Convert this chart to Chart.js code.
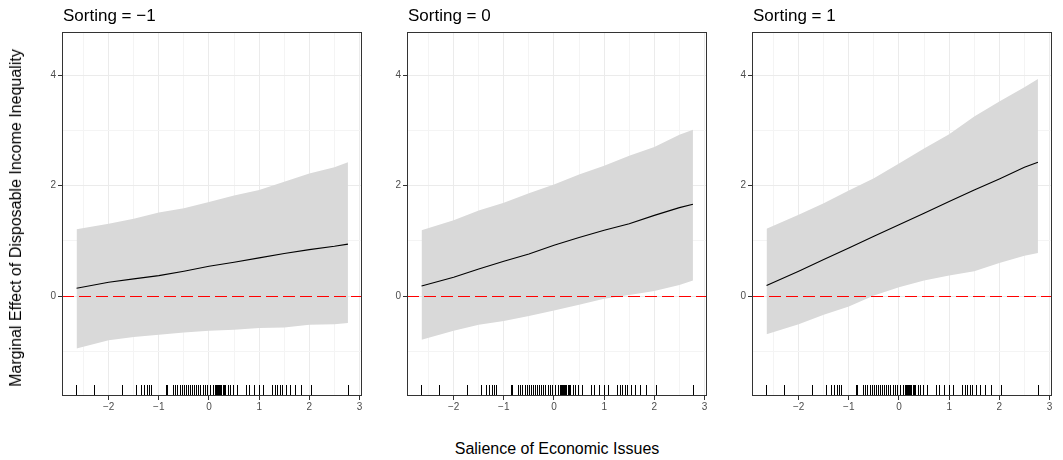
<!DOCTYPE html>
<html>
<head>
<meta charset="utf-8">
<script src="https://cdn.jsdelivr.net/npm/chart.js@4"></script>
<style>
  body { margin: 0; background: #fff; font-family: "Liberation Sans", Arial, sans-serif; }
  #wrap { position: relative; width: 1063px; height: 460px; overflow: hidden; }
  canvas { position: absolute; top: 0; }
  .ylab { position: absolute; left: 16px; top: 218px; transform: translate(-50%, -50%) rotate(-90deg);
          white-space: nowrap; font-size: 16px; color: #000; }
  .xlab { position: absolute; left: 557px; top: 449px; transform: translate(-50%, -50%);
          white-space: nowrap; font-size: 16px; color: #000; }
</style>
</head>
<body>
<div id="wrap">
  <canvas id="p0" width="344" height="420"></canvas>
  <canvas id="p1" width="344" height="420"></canvas>
  <canvas id="p2" width="344" height="420"></canvas>
  <div class="ylab">Marginal Effect of Disposable Income Inequality</div>
  <div class="xlab">Salience of Economic Issues</div>
</div>
<script>
// facets
const panels = ["Sorting = \u22121", "Sorting = 0", "Sorting = 1"]

const salience = [-2.64, -2, -1.5, -1, -0.5, 0, 0.5, 1, 1.5, 2, 2.5, 2.77]

// marginal effect and 95% band, one array per facet
const effect_m1 = [0.14, 0.25, 0.31, 0.37, 0.45, 0.54, 0.61, 0.69, 0.77, 0.84, 0.90, 0.94]
const upper_m1  = [1.21, 1.31, 1.40, 1.51, 1.59, 1.70, 1.82, 1.92, 2.07, 2.22, 2.33, 2.42]
const lower_m1  = [-0.95, -0.80, -0.74, -0.70, -0.66, -0.63, -0.61, -0.58, -0.57, -0.52, -0.51, -0.49]

const effect_0 = [0.18, 0.34, 0.49, 0.63, 0.76, 0.92, 1.06, 1.19, 1.31, 1.46, 1.60, 1.66]
const upper_0  = [1.19, 1.37, 1.55, 1.69, 1.86, 2.02, 2.20, 2.36, 2.54, 2.70, 2.92, 3.01]
const lower_0  = [-0.79, -0.63, -0.52, -0.45, -0.36, -0.26, -0.16, -0.05, 0.02, 0.09, 0.20, 0.28]

const effect_p1 = [0.19, 0.45, 0.66, 0.87, 1.08, 1.29, 1.50, 1.71, 1.92, 2.12, 2.33, 2.42]
const upper_p1  = [1.22, 1.47, 1.68, 1.91, 2.13, 2.40, 2.67, 2.93, 3.25, 3.52, 3.78, 3.93]
const lower_p1  = [-0.69, -0.51, -0.34, -0.19, 0.01, 0.16, 0.28, 0.37, 0.45, 0.60, 0.73, 0.78]

// observed salience values (rug)
const rug = [-2.66, -2.30, -1.74, -1.45, -1.35, -1.29, -1.24, -1.19, -1.16, -0.86, -0.83, -0.72,
  -0.67, -0.63, -0.58, -0.54, -0.50, -0.46, -0.41, -0.37, -0.33, -0.29, -0.25, -0.21, -0.17,
  -0.11, -0.07, -0.03, 0.03, 0.08, 0.12, 0.14, 0.16, 0.18, 0.20, 0.22, 0.24, 0.27, 0.29, 0.32,
  0.37, 0.42, 0.48, 0.56, 0.73, 0.79, 0.89, 1.00, 1.07, 1.26, 1.31, 1.36, 1.41, 1.46, 1.53,
  1.61, 1.71, 1.84, 2.03, 2.78]

const xTicks = [-2, -1, 0, 1, 2, 3]
const yTicks = [0, 2, 4]
const refLine = 0

const series = [
  [effect_m1, upper_m1, lower_m1],
  [effect_0, upper_0, lower_0],
  [effect_p1, upper_p1, lower_p1]
]

const panelLeft = [62, 407, 752]
const FONT = '"Liberation Sans", Arial, sans-serif'

function pts(ys) {
  return salience.map((x, i) => ({x: x, y: ys[i]}))
}
function minus(v) {
  return v < 0 ? '\u2212' + Math.abs(v) : String(v)
}

const facetPlugin = {
  id: 'facet',
  afterDatasetsDraw(chart, args, opts) {
    const c = chart.ctx, a = chart.chartArea
    const xs = chart.scales.x, ys = chart.scales.y
    c.save()
    // zero line
    const y0 = Math.round(ys.getPixelForValue(refLine)) + 0.5
    c.strokeStyle = '#FF0000'
    c.lineWidth = 1.1
    c.setLineDash([12, 5])
    c.beginPath()
    c.moveTo(a.left, y0)
    c.lineTo(a.right, y0)
    c.stroke()
    c.setLineDash([])
    // rug
    c.strokeStyle = '#000'
    c.lineWidth = 1
    c.beginPath()
    rug.forEach(v => {
      const x = Math.round(xs.getPixelForValue(v)) + 0.5
      c.moveTo(x, a.bottom - 11)
      c.lineTo(x, a.bottom - 1)
    })
    c.stroke()
    // panel border
    c.strokeStyle = '#333333'
    c.lineWidth = 1
    c.strokeRect(a.left + 0.5, a.top + 0.5, a.right - a.left - 1, a.bottom - a.top - 1)
    // facet title
    c.fillStyle = '#000'
    c.font = '17px ' + FONT
    c.textAlign = 'left'
    c.textBaseline = 'alphabetic'
    c.fillText(opts.title, a.left + 1, 21)
    c.restore()
  }
}

panels.forEach((title, p) => {
  const cv = document.getElementById('p' + p)
  cv.style.left = (panelLeft[p] - 40) + 'px'
  const [eff, up, lo] = series[p]
  new Chart(cv, {
    type: 'line',
    data: {
      datasets: [
        { data: pts(eff), borderColor: '#000', borderWidth: 1.1, pointRadius: 0, fill: false, tension: 0 },
        { data: pts(up), borderWidth: 0, borderColor: 'rgba(0,0,0,0)', backgroundColor: '#D9D9D9',
          pointRadius: 0, fill: '+1', tension: 0 },
        { data: pts(lo), borderWidth: 0, borderColor: 'rgba(0,0,0,0)', pointRadius: 0, fill: false, tension: 0 }
      ]
    },
    options: {
      responsive: false,
      animation: false,
      devicePixelRatio: 1,
      layout: { padding: { top: 32, right: 4, left: 0, bottom: 0 } },
      plugins: {
        legend: { display: false },
        tooltip: { enabled: false },
        facet: { title: title }
      },
      scales: {
        x: {
          type: 'linear',
          min: -2.93, max: 3.05,
          afterFit(s) { s.height = 24 },
          border: { display: false },
          grid: {
            color: ctx => xTicks.includes(ctx.tick.value) ? '#EBEBEB' : '#F4F4F4',
            lineWidth: 1,
            tickLength: 4,
            tickColor: ctx => xTicks.includes(ctx.tick.value) ? '#333333' : 'rgba(0,0,0,0)'
          },
          ticks: {
            stepSize: 0.5,
            includeBounds: false,
            maxRotation: 0,
            autoSkip: false,
            padding: 1,
            color: '#4D4D4D',
            font: { family: FONT, size: 10 },
            callback: v => xTicks.includes(v) ? minus(v) : ''
          }
        },
        y: {
          min: -1.81, max: 4.78,
          afterFit(s) { s.width = 40 },
          border: { display: false },
          grid: {
            color: ctx => yTicks.includes(ctx.tick.value) ? '#EBEBEB' : '#F4F4F4',
            lineWidth: 1,
            tickLength: 4,
            tickColor: ctx => yTicks.includes(ctx.tick.value) ? '#333333' : 'rgba(0,0,0,0)'
          },
          ticks: {
            stepSize: 1,
            includeBounds: false,
            padding: 2,
            color: '#4D4D4D',
            font: { family: FONT, size: 10 },
            callback: v => yTicks.includes(v) ? minus(v) : ''
          }
        }
      }
    },
    plugins: [facetPlugin]
  })
})
</script>
</body>
</html>
